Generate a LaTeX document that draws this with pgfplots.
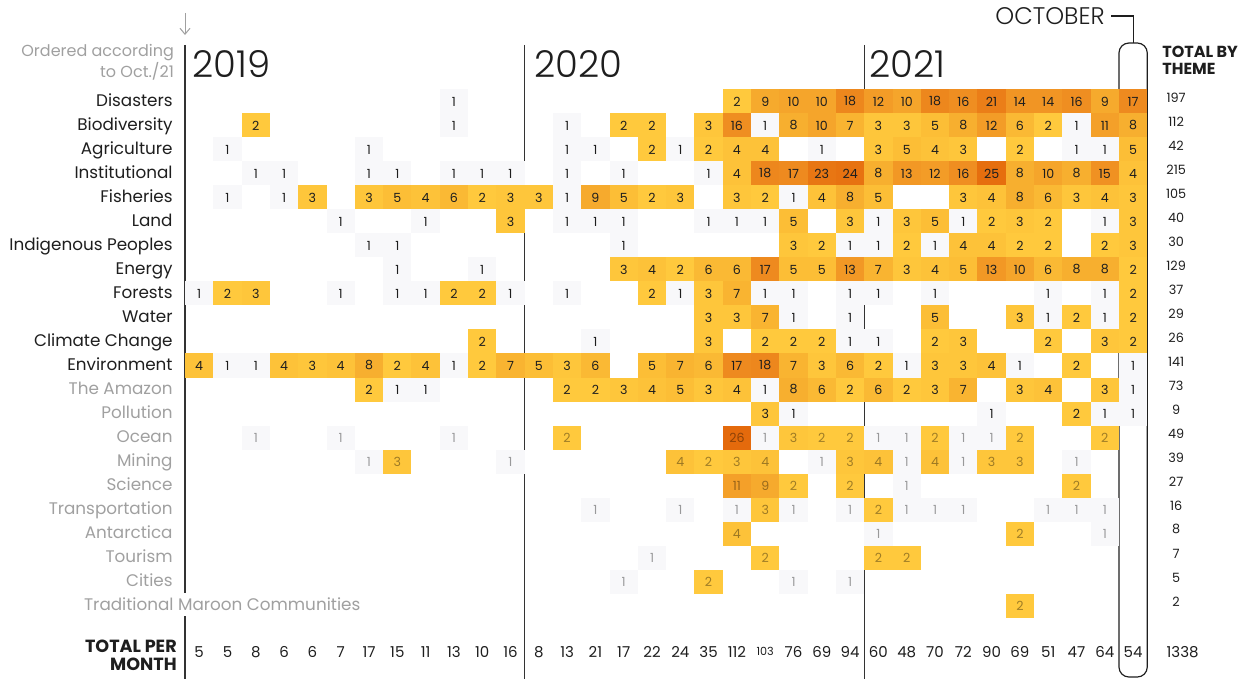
\documentclass[border=0pt]{standalone}
\usepackage{pgfplots}
\pgfplotsset{compat=1.18}
\usepackage{pgfplotstable}
\usepackage{fontspec}
\setmainfont{Poppins}
\newfontfamily\lightfont{Poppins}[UprightFont={* Light}]
\usetikzlibrary{arrows.meta}

\definecolor{ink}{HTML}{1E1E1E}
\definecolor{soft}{HTML}{A0A0A0}
\definecolor{rule}{HTML}{333333}

% cell colours by number of stories (1 ... 26)
\definecolor{heat1}{RGB}{248,248,250}
\definecolor{heat2}{RGB}{255,201,61}
\definecolor{heat3}{RGB}{254,198,59}
\definecolor{heat4}{RGB}{253,194,57}
\definecolor{heat5}{RGB}{252,190,54}
\definecolor{heat6}{RGB}{250,185,52}
\definecolor{heat7}{RGB}{249,180,49}
\definecolor{heat8}{RGB}{247,175,47}
\definecolor{heat9}{RGB}{246,170,45}
\definecolor{heat10}{RGB}{245,165,43}
\definecolor{heat11}{RGB}{244,160,41}
\definecolor{heat12}{RGB}{243,156,39}
\definecolor{heat13}{RGB}{242,152,37}
\definecolor{heat14}{RGB}{241,149,36}
\definecolor{heat15}{RGB}{240,145,34}
\definecolor{heat16}{RGB}{239,142,33}
\definecolor{heat17}{RGB}{238,138,31}
\definecolor{heat18}{RGB}{237,135,29}
\definecolor{heat19}{RGB}{236,132,27}
\definecolor{heat20}{RGB}{236,129,26}
\definecolor{heat21}{RGB}{235,126,24}
\definecolor{heat22}{RGB}{234,122,22}
\definecolor{heat23}{RGB}{232,118,19}
\definecolor{heat24}{RGB}{231,114,17}
\definecolor{heat25}{RGB}{230,110,14}
\definecolor{heat26}{RGB}{228,106,12}

\newcommand\cellfont{\fontsize{6.3pt}{7pt}\selectfont}
\newcommand\labfont{\fontsize{8.4pt}{10pt}\selectfont}
\newcommand\totfont{\fontsize{7.5pt}{9pt}\selectfont}
\gdef\cellidx{1}

% one cell = 28.3 x 24 px at 0.5pt per px
\pgfdeclareplotmark{cell}{%
  \pgfsetfillcolor{heat\cellidx}%
  \pgfpathrectangle{\pgfqpoint{-7.075pt}{-6pt}}{\pgfqpoint{14.15pt}{12pt}}%
  \pgfusepathqfill}

\pgfplotsset{
  cells/.style={scatter, only marks, mark=cell, point meta=explicit,
    scatter/@pre marker code/.code={%
      \pgfmathtruncatemacro\tmpidx{round(\pgfplotspointmetatransformed/40)+1}%
      \xdef\cellidx{\tmpidx}},
    scatter/@post marker code/.code={}},
  celltext/.style={draw=none, mark=none, point meta=explicit, nodes near coords},
}

% themes x months (Jan/19 ... Oct/21), themes with stories in Oct/21
\pgfplotstableread{
r m0 m1 m2 m3 m4 m5 m6 m7 m8 m9 m10 m11 m12 m13 m14 m15 m16 m17 m18 m19 m20 m21 m22 m23 m24 m25 m26 m27 m28 m29 m30 m31 m32 m33
0  0 0 0 0 0 0 0 0 0 1 0 0  0 0 0 0 0 0 0 2 9 10 10 18  12 10 18 16 21 14 14 16 9 17
1  0 0 2 0 0 0 0 0 0 1 0 0  0 1 0 2 2 0 3 16 1 8 10 7  3 3 5 8 12 6 2 1 11 8
2  0 1 0 0 0 0 1 0 0 0 0 0  0 1 1 0 2 1 2 4 4 0 1 0  3 5 4 3 0 2 0 1 1 5
3  0 0 1 1 0 0 1 1 0 1 1 1  0 1 0 1 0 0 1 4 18 17 23 24  8 13 12 16 25 8 10 8 15 4
4  0 1 0 1 3 0 3 5 4 6 2 3  3 1 9 5 2 3 0 3 2 1 4 8  5 0 0 3 4 8 6 3 4 3
5  0 0 0 0 0 1 0 0 1 0 0 3  0 1 1 1 0 0 1 1 1 5 0 3  1 3 5 1 2 3 2 0 1 3
6  0 0 0 0 0 0 1 1 0 0 0 0  0 0 0 1 0 0 0 0 0 3 2 1  1 2 1 4 4 2 2 0 2 3
7  0 0 0 0 0 0 0 1 0 0 1 0  0 0 0 3 4 2 6 6 17 5 5 13  7 3 4 5 13 10 6 8 8 2
8  1 2 3 0 0 1 0 1 1 2 2 1  0 1 0 0 2 1 3 7 1 1 0 1  1 0 1 0 0 0 1 0 1 2
9  0 0 0 0 0 0 0 0 0 0 0 0  0 0 0 0 0 0 3 3 7 1 0 1  0 0 5 0 0 3 1 2 1 2
10 0 0 0 0 0 0 0 0 0 0 2 0  0 0 1 0 0 0 3 0 2 2 2 1  1 0 2 3 0 0 2 0 3 2
11 4 1 1 4 3 4 8 2 4 1 2 7  5 3 6 0 5 7 6 17 18 7 3 6  2 1 3 3 4 1 0 2 0 1
12 0 0 0 0 0 0 2 1 1 0 0 0  0 2 2 3 4 5 3 4 1 8 6 2  6 2 3 7 0 3 4 0 3 1
13 0 0 0 0 0 0 0 0 0 0 0 0  0 0 0 0 0 0 0 0 3 1 0 0  0 0 0 0 1 0 0 2 1 1
}\toptab

% themes without stories in Oct/21
\pgfplotstableread{
r m0 m1 m2 m3 m4 m5 m6 m7 m8 m9 m10 m11 m12 m13 m14 m15 m16 m17 m18 m19 m20 m21 m22 m23 m24 m25 m26 m27 m28 m29 m30 m31 m32 m33
14 0 0 1 0 0 1 0 0 0 1 0 0  0 2 0 0 0 0 0 26 1 3 2 2  1 1 2 1 1 2 0 0 2 0
15 0 0 0 0 0 0 1 3 0 0 0 1  0 0 0 0 0 4 2 3 4 0 1 3  4 1 4 1 3 3 0 1 0 0
16 0 0 0 0 0 0 0 0 0 0 0 0  0 0 0 0 0 0 0 11 9 2 0 2  0 1 0 0 0 0 0 2 0 0
17 0 0 0 0 0 0 0 0 0 0 0 0  0 0 1 0 0 1 0 1 3 1 0 1  2 1 1 1 0 0 1 1 1 0
18 0 0 0 0 0 0 0 0 0 0 0 0  0 0 0 0 0 0 0 4 0 0 0 0  1 0 0 0 0 2 0 0 1 0
19 0 0 0 0 0 0 0 0 0 0 0 0  0 0 0 0 1 0 0 0 2 0 0 0  2 2 0 0 0 0 0 0 0 0
20 0 0 0 0 0 0 0 0 0 0 0 0  0 0 0 1 0 0 2 0 0 1 0 1  0 0 0 0 0 0 0 0 0 0
21 0 0 0 0 0 0 0 0 0 0 0 0  0 0 0 0 0 0 0 0 0 0 0 0  0 0 0 0 0 2 0 0 0 0
}\bottab

\pgfplotstableread{
c t
0 5
1 5
2 8
3 6
4 6
5 7
6 17
7 15
8 11
9 13
10 10
11 16
12 8
13 13
14 21
15 17
16 22
17 24
18 35
19 112
20 103
21 76
22 69
23 94
24 60
25 48
26 70
27 72
28 90
29 69
30 51
31 47
32 64
33 54
}\monthtab

\pgfplotstableread{
r t
0 197
1 112
2 42
3 215
4 105
5 40
6 30
7 129
8 37
9 29
10 26
11 141
12 73
13 9
14 49
15 39
16 27
17 16
18 8
19 7
20 5
21 2
}\themetab

\begin{document}
\begin{tikzpicture}
\begin{axis}[
    width=623pt, height=339.5pt, scale only axis,
    xmin=-7.039, xmax=36.989, ymin=-4.229, ymax=24.0625,
    y dir=reverse, hide axis, clip=false,
    point meta min=1, point meta max=26,
    /pgf/number format/assume math mode=true,
]

% coloured cells
\pgfplotsinvokeforeach{0,...,33}{
  \addplot[cells, restrict expr to domain={\thisrow{m#1}}{0.5:100}]
    table[x expr=#1, y=r, meta=m#1] {\toptab};
  \addplot[cells, restrict expr to domain={\thisrow{m#1}}{0.5:100}]
    table[x expr=#1, y=r, meta=m#1] {\bottab};
}
% numbers in the cells
\pgfplotsinvokeforeach{0,...,33}{
  \addplot[celltext, restrict expr to domain={\thisrow{m#1}}{0.5:100},
    every node near coord/.style={anchor=center, font=\cellfont, text=ink}]
    table[x expr=#1, y=r, meta=m#1] {\toptab};
  \addplot[celltext, restrict expr to domain={\thisrow{m#1}}{0.5:100},
    every node near coord/.style={anchor=center, font=\cellfont, text=black, text opacity=0.38}]
    table[x expr=#1, y=r, meta=m#1] {\bottab};
}

% totals per month
\addplot[draw=none, mark=none, point meta=explicit symbolic, nodes near coords,
  every node near coord/.style={anchor=center, font=\totfont, text=ink},
  x filter/.expression={x==20 ? nan : x}, unbounded coords=discard]
  table[x=c, y expr=22.94, meta=t] {\monthtab};
\addplot[draw=none, mark=none, point meta=explicit symbolic, nodes near coords,
  every node near coord/.style={anchor=center, font=\fontsize{5.6pt}{6pt}\selectfont, text=ink},
  x filter/.expression={x==20 ? x : nan}, unbounded coords=discard]
  table[x=c, y expr=22.90, meta=t] {\monthtab};

% totals by theme
\addplot[draw=none, mark=none, point meta=explicit symbolic, nodes near coords,
  every node near coord/.style={anchor=center, font=\fontsize{6.4pt}{7pt}\selectfont, text=ink}]
  table[x expr=34.52, y expr=\thisrow{r}-0.17, meta=t] {\themetab};

% year rules and bracket
\draw[rule, line width=0.7pt] (-0.5,-2.354) -- (-0.5,24.0625);
\draw[rule, line width=0.7pt] (11.5,-2.354) -- (11.5,24.0625);
\draw[rule, line width=0.7pt] (23.5,-2.354) -- (23.5,24.0625);
\draw[ink, line width=0.6pt, rounded corners=5pt] (32.5,-2.4375) rectangle (33.5,23.98);
\draw[ink, line width=0.6pt] (32.22,-3.5625) -| (33,-2.4375);
\node[anchor=east, font=\lightfont\fontsize{12pt}{14pt}\selectfont, text=ink, inner sep=0pt] at (32.01,-3.54) {OCTOBER};

\node[anchor=base west, font=\lightfont\fontsize{18.5pt}{20pt}\selectfont, text=ink, inner sep=0pt] at (-0.25,-1.02) {2019};
\node[anchor=base west, font=\lightfont\fontsize{18.5pt}{20pt}\selectfont, text=ink, inner sep=0pt] at (11.84,-1.02) {2020};
\node[anchor=base west, font=\lightfont\fontsize{18.5pt}{20pt}\selectfont, text=ink, inner sep=0pt] at (23.67,-1.02) {2021};

\draw[soft, line width=0.5pt, -{Straight Barb[length=3pt, width=5pt]}] (-0.502,-3.69) -- (-0.502,-2.77);
\node[anchor=base east, font=\fontsize{8pt}{9pt}\selectfont, text=soft, inner sep=0pt] at (-0.88,-1.866) {Ordered according};
\node[anchor=base east, font=\fontsize{8pt}{9pt}\selectfont, text=soft, inner sep=0pt] at (-0.88,-1.0125) {to Oct./21};

\node[anchor=west, font=\bfseries\fontsize{8pt}{9pt}\selectfont, text=ink, inner sep=0pt] at (34.02,-2.075) {TOTAL BY};
\node[anchor=west, font=\bfseries\fontsize{8pt}{9pt}\selectfont, text=ink, inner sep=0pt] at (34.02,-1.354) {THEME};
\node[anchor=east, font=\bfseries\fontsize{8.8pt}{9pt}\selectfont, text=ink, inner sep=0pt] at (-0.78,22.69) {TOTAL PER};
\node[anchor=east, font=\bfseries\fontsize{8.8pt}{9pt}\selectfont, text=ink, inner sep=0pt] at (-0.78,23.45) {MONTH};
\node[anchor=center, font=\totfont, text=ink, inner sep=0pt] at (34.75,22.94) {1338};

% theme labels
\tikzset{lab/.style={anchor=mid east, font=\labfont, inner sep=0pt, text=ink}}
\node[lab] at (-0.926,0) {Disasters};
\node[lab] at (-0.926,1) {Biodiversity};
\node[lab] at (-0.926,2) {Agriculture};
\node[lab] at (-0.926,3) {Institutional};
\node[lab] at (-0.926,4) {Fisheries};
\node[lab] at (-0.926,5) {Land};
\node[lab] at (-0.926,6) {Indigenous Peoples};
\node[lab] at (-0.926,7) {Energy};
\node[lab] at (-0.926,8) {Forests};
\node[lab] at (-0.926,9) {Water};
\node[lab] at (-0.926,10) {Climate Change};
\node[lab] at (-0.926,11) {Environment};
\node[lab, text=soft] at (-0.926,12) {The Amazon};
\node[lab, text=soft] at (-0.926,13) {Pollution};
\node[lab, text=soft] at (-0.926,14) {Ocean};
\node[lab, text=soft] at (-0.926,15) {Mining};
\node[lab, text=soft] at (-0.926,16) {Science};
\node[lab, text=soft] at (-0.926,17) {Transportation};
\node[lab, text=soft] at (-0.926,18) {Antarctica};
\node[lab, text=soft] at (-0.926,19) {Tourism};
\node[lab, text=soft] at (-0.926,20) {Cities};
\node[lab, text=soft, anchor=mid west, fill=white, inner xsep=1pt, inner ysep=2.5pt] at (-4.15,21) {Traditional Maroon Communities};
\end{axis}
\pgfresetboundingbox
\path (current axis.south west) rectangle (current axis.north east);
\end{tikzpicture}
\end{document}
